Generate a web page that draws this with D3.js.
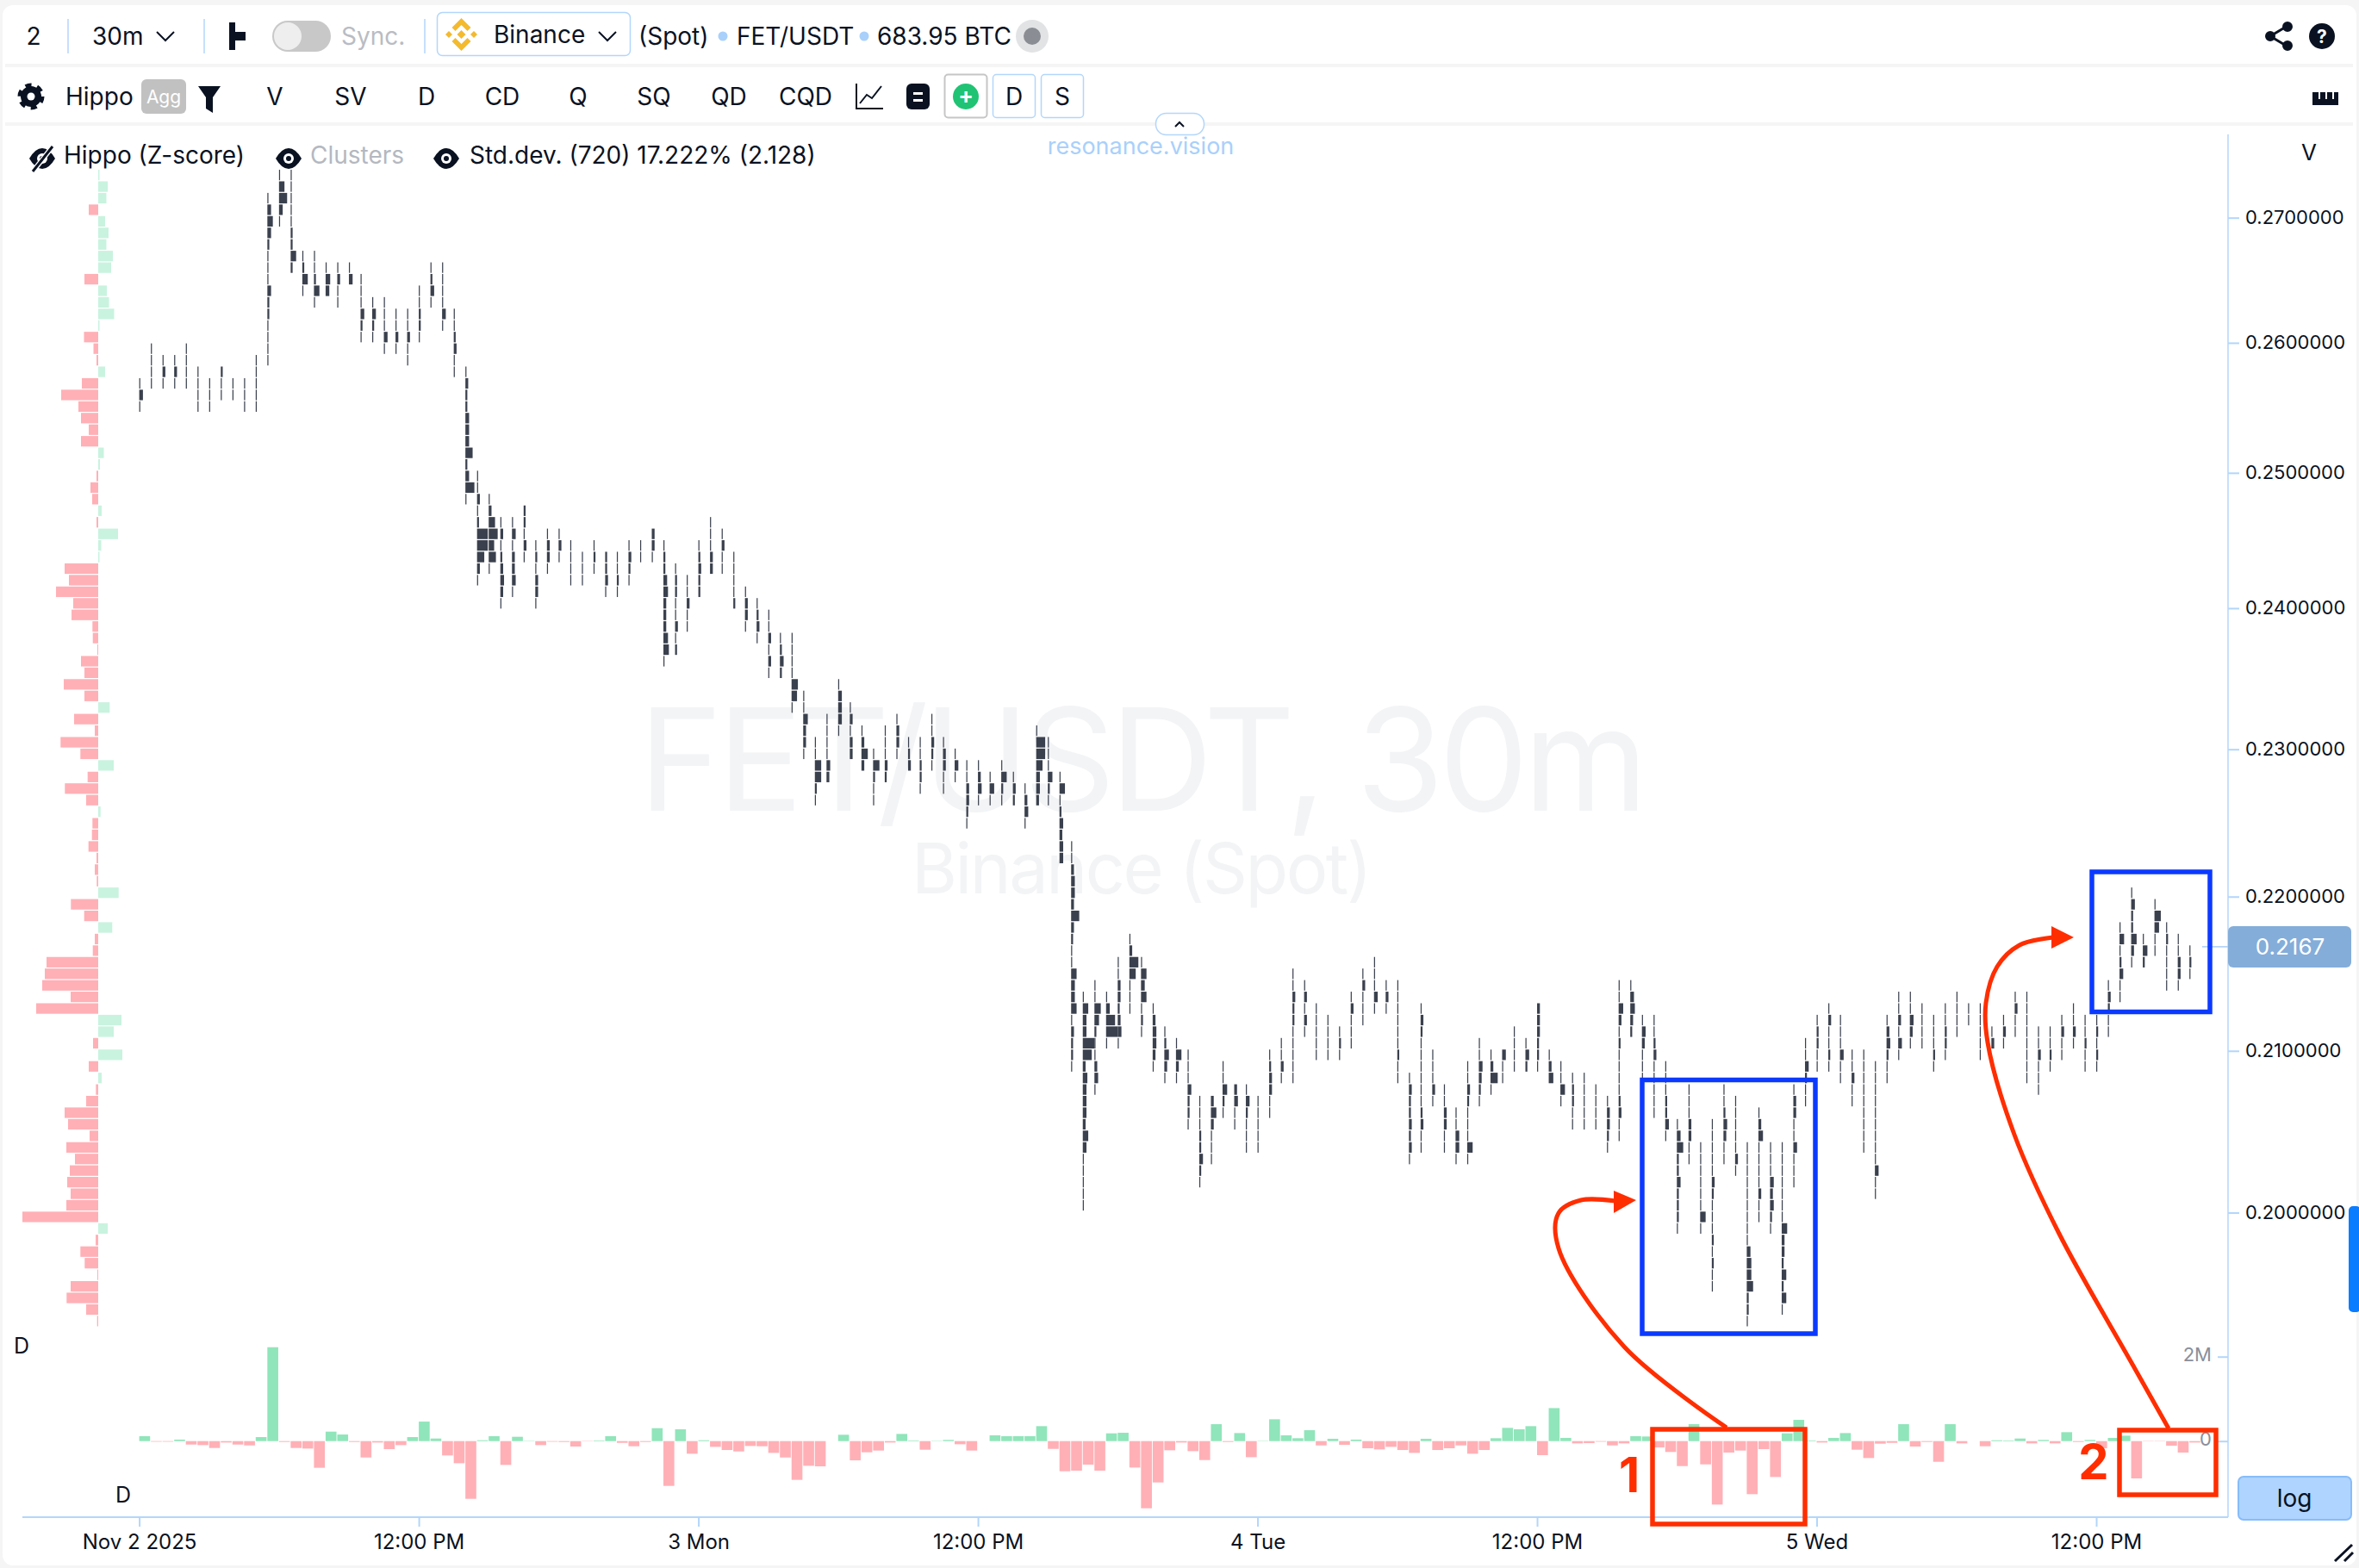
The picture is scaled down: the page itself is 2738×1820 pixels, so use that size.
<!DOCTYPE html>
<html>
<head>
<meta charset="utf-8">
<title>FET/USDT, 30m</title>
<script src="https://cdn.jsdelivr.net/npm/d3@7"></script>
<style>
  html, body { margin: 0; padding: 0; background: #f5f5f5; }
  svg { display: block; font-family: Inter, "Noto Sans", sans-serif; }
</style>
</head>
<body>
<div class="chart"></div>
<script>
// Axis labels
const priceTicks = [0.27, 0.26, 0.25, 0.24, 0.23, 0.22, 0.21, 0.20];
const timeTicks = [0, 24, 48, 72, 96, 120, 144, 168];
const timeLabels = ['Nov 2 2025', '12:00 PM', '3 Mon', '12:00 PM', '4 Tue', '12:00 PM', '5 Wed', '12:00 PM'];
const deltaTicks = [2000, 0];
const lastPrice = 0.2167;

// Delta per 30m candle, thousands
const deltaValues = [
  116, -14, -14, 34, -82, -95, -163, -34, -82, -102, 95, 2224, -20, -163, -177, -632, 224, 156, -20, -388,
  -34, -190, -95, 95, 462, 61, -340, -524, -1367, 20, 116, -564, 102, 7, -95, -14, -20, -129, -7, 14,
  116, -41, -122, -20, 306, -1061, 279, -299, 20, -136, -211, -245, -116, -122, -279, -388, -918, -585, -598, 0,
  150, -456, -265, -224, -34, 170, 14, -204, 7, 27, -75, -224, 0, 136, 116, 116, 116, 354, -184, -714,
  -700, -558, -700, 184, 197, -626, -1591, -979, -218, -34, -238, -449, 401, -20, 190, -381, 7, 517, 136, 68,
  258, -102, 54, -88, 34, -170, -197, -136, -211, -279, 54, -211, -170, -102, -299, -211, 68, 313, 279, 354,
  -333, 782, 75, -54, -48, -14, -102, -54, 116, 109, -150, -258, -592, 401, -551, -1503, -272, -224, -1258, -190,
  -850, 184, 503, 14, -34, 75, 190, -204, -401, -61, -41, 401, -129, -20, -490, 401, -54, 0, -122, 20,
  14, 61, -54, 27, -54, 211, -20, 27, -170, 75, 129, -884, -7, -7, -109, -272, -34
];

// Volume delta per price level, top level first
const profileDelta = [
  1.5, 11, 9.5, -11, 8, 12, 9.5, 17, 15, -16, 10, 12.5, 18.5, 1.5, -16.5, -5.5, -2, 8, -19, -43,
  -23, -20, -11, -20, 6.5, 2, -2, -9, -7, 4, -2, 23, 3.5, 1.5, -39, -34, -49, -29, -31, -6.7,
  -6.3, -1, -20, -16, -40, -16, 13.3, -28, -4, -43.7, -20.7, 18, -12.3, -38.7, -14, 2.7, -6.7, -7.3, -11.3, -2,
  -4, -1.7, 23.7, -31.7, -16.3, 16.3, -4, -6.3, -60, -62, -65, -32, -72, 27, 18, -6, 28, -11, 4, -2.7,
  -14, -39, -35, -10, -37, -27, -33, -36, -32, -37, -88, 11, -3, -20.7, -15.7, -1, -32, -36.7, -14, -1.3
];

// Highest price level of each candle
const candleTop = [
  18, 15, 16, 16, 15, 17, 18, 17, 18, 18, 16, 2, 0, 0, 7, 7, 8, 8, 8, 9,
  11, 11, 12, 12, 10, 8, 8, 12, 17, 26, 28, 30, 30, 29, 32, 31, 31, 32, 33, 32,
  33, 33, 32, 32, 31, 32, 34, 35, 32, 30, 31, 33, 36, 37, 38, 40, 40, 45, 49, 47,
  44, 46, 48, 50, 48, 47, 49, 49, 47, 49, 50, 51, 51, 52, 51, 52, 53, 48, 49, 52,
  58, 71, 70, 71, 68, 66, 68, 72, 74, 75, 76, 80, 80, 77, 79, 79, 80, 76, 75, 69,
  70, 72, 73, 74, 71, 69, 68, 70, 70, 78, 72, 76, 79, 81, 77, 75, 76, 76, 74, 75,
  72, 76, 77, 78, 78, 79, 80, 70, 70, 73, 73, 77, 82, 79, 84, 82, 79, 80, 84, 81,
  84, 84, 79, 75, 73, 72, 73, 76, 76, 77, 73, 71, 71, 72, 73, 72, 71, 72, 72, 74,
  73, 71, 71, 74, 74, 73, 72, 73, 73, 70, 65, 62, 66, 63, 65, 66, 67
];

// Traded volume at each level of each candle, going down from the top level
const candleCells = [
  [1,4,1], [1,1,1,1], [1,3,1], [1,3,1], [1,1,1,1], [1,1,1,1], [1,1,1], [2,1,1], [1,1], [1,1,1],
  [1,1,1,1,1], [1,4,6,4,2,1,1,1,4,2,2,1,1,1,1], [1,6,9,4,1], [1,1,1,1,1,2,2,6,2], [1,2,6,1],
  [1,1,2,6,1], [1,5,4], [1,3,1,1], [1,4], [1,1,1,4,2,1],
  [1,4,2,1], [1,1,1,4,1], [1,1,3,1], [1,1,3,1,1], [1,1,2,2,1], [1,2,4,1], [1,1,1,1,4,1], [1,1,2,3,1,1],
  [1,3,2,2,4,4,4,8,2,4,10,1], [1,1,3,1,2,12,12,8,3,1],
  [1,3,7,10,6,8,1], [1,3,1,2,3,4,3,1], [1,4,1,3,3,4,1], [2,2,1,3,1], [1,2,1,3,3,1], [1,3,3,1], [1,3,1],
  [1,1,1,1], [1,1,1], [1,2,1],
  [2,2,3,1], [1,1,2,1], [1,3,2,1], [1,1], [3,3,1], [1,2,2,4,5,3,3,3,5,6,1], [1,2,2,1,1,3,1,2], [1,1,3,1,1],
  [1,2,3,2,2], [1,1,1,3,3],
  [1,3,1,1], [1,1,1,1,2], [1,3,3,1], [1,2,3,1], [1,1,3,1,3,1], [1,2,4,2], [1,1,1,1,7,6,1], [1,1,5,3,3,1],
  [1,1,7,7,2,1], [1,1,1,1,4,3],
  [1,4,4,4,1], [1,3,1,3,3], [1,3,7,3], [1,7,2,1,1], [1,1,1,3,2], [1,3,3,1], [1,2,3], [1,1,2,2,1], [1,1,3,2,1],
  [1,3,3,1,1],
  [1,4,1], [1,1,3,3,2,1], [1,3,4,1], [1,5,1], [1,6,2,1], [1,3,2], [1,3,4,1], [1,10,10,7,4,4,3], [1,1,1,5,2,1],
  [1,6,1,2,4,3,4,4],
  [1,1,3,4,4,3,9,3,2,1,1,6,4,4,6,1,3,2,2,1], [1,6,4,4,13,10,3,5,4,4,4,3,6,4,1,1,1,1,1], [1,1,7,5,2,1,1,3,4,1],
  [1,4,10,13,1], [1,1,3,3,2,3,4,1], [1,3,10,7,1,1,1], [1,6,4,6,1,2,1], [1,3,4,4,3,1], [1,2,5,3,1], [1,6,3,1],
  [1,1,1,4,2,2,1], [1,1,1,2,2,4,2,1], [3,6,3,1,1,1], [1,1,5,2,1], [3,4,1,1], [1,4,2,1,1,1], [1,1,1,1,1],
  [1,2,3,3,1,1], [1,1,3,1], [1,1,3,2,2,1,1,1,1,1],
  [1,3,1,3,1], [1,1,1,1,1], [1,1,1,1], [1,2,1], [1,3,1,1,1], [1,3,1,1,1], [1,1,1,4,1], [1,3,1],
  [1,1,1,1,1,1,2,1,1], [1,3,2,2,3,2,3,1],
  [1,3,2,1,1,1,1,1,1,2,3,1,1], [1,1,1,3,1], [1,1,3,3,1,1], [1,1,4,4,1], [1,1,3,2,1,1,1,6,1], [1,1,4,3,2,1],
  [1,3,8,1], [4,1,1], [1,1,1,1], [1,4,2],
  [3,3,3,2,2,1], [1,3,5], [1,1,5,1], [1,2,2,1,1], [1,1,1,1,1], [1,1,1,1], [1,3,3,2,1],
  [1,1,5,3,1,2,1,1,1,1,2,3,1,1], [1,4,5,3,2], [1,4,3,1,1,1],
  [1,1,2,3,1,1,1,1,1], [1,1,1,2,2,4,1], [1,4,7,2,2,4,2,2,2,1], [1,1,1,3,3,1,1], [1,1,1,1,1,1,6,1],
  [1,1,1,1,1,3,2,1,1,1,2,1,2,1,1], [1,1,2,4,3,1,1], [1,1,1,1,1,3,1], [1,1,1,1,1,1,1,1,1,4,5,5,7,2,2,1],
  [1,3,5,1,1,1,1,3,1,1],
  [1,1,1,4,3,4,2,1], [1,1,1,1,1,1,1,6,3,3,2,5,2,5,1], [1,3,3,1,1,4,1,1,1], [1,1,4,2,1,1], [1,2,2,1,1],
  [1,3,1,1,2,1], [1,1,1,4,1,1], [1,1,3,1,1], [1,1,1,1,1,1,1,1,1], [1,1,1,1,1,1,1,1,1,4,1,1],
  [1,3,4,2,1,1], [1,1,3,1,4,1], [1,1,4,3,1], [1,1,1,1], [1,1,1,2,1], [1,1,2,2,1], [1,1,1,1], [1,1], [1,1,1,1,1],
  [1,3],
  [1,3,1], [1,3,1,1], [1,1,1,1,1,1,1,1], [1,1,3,1,1,1], [1,1,2,1], [1,3,1,1], [1,1,3,1], [1,1,2,1,1], [1,2,1,2,1],
  [1,3,2,1,1], [1,5,1,2,4,1,1], [1,4,2,2,6,3,1], [1,5,2], [1,7,5,1,1], [1,2,1,1,1,1], [1,1,3,3,1], [1,2,1]
];

// Set chart dimensions
const width = 2738, height = 1820;
const plotRight = 2586, axisY = 1761;

const ink = '#0a1222', inkCandle = '#3a404d', axisBlue = '#b3d6fb';
const upColor = '#90e5ba', downColor = '#ffb0b6', profileUp = '#c9f3df';
const annotRed = '#ff2e00', annotBlue = '#0b39ff';

const svg = d3.select('.chart').append('svg')
  .attr('width', width)
  .attr('height', height);

// Scales
const x = d3.scaleLinear().domain([0, 168]).range([161.6, 2433]);
const priceY = d3.scaleLog().domain([0.2, 0.27]).range([1407.5, 252.7]);
const deltaY = d3.scaleLinear().domain([0, 2000]).range([1672.7, 1574.7]);
const profileX = d3.scaleLinear().domain([-88, 28]).range([26, 142]);
const volumeW = d3.scaleLinear().domain([0, 13]).range([0.2, 13.5]);

// Price ladder: levels are equal steps on the log axis
const ladderTop = 0.2735, ladderRatio = 1.003498, cellHeight = 12.2;
const levelPrice = r => ladderTop / Math.pow(ladderRatio, r);
const barStep = x(1) - x(0);

function label(parent, px, py, text, opts = {}) {
  return parent.append('text')
    .attr('x', px).attr('y', py)
    .attr('dy', '0.36em')
    .attr('text-anchor', opts.anchor || 'start')
    .attr('fill', opts.color || ink)
    .attr('font-size', opts.size || 28)
    .attr('font-weight', opts.weight || 400)
    .text(text);
}

// Page card
svg.append('rect').attr('width', width).attr('height', height).attr('fill', '#f5f5f5');
svg.append('rect').attr('x', 3).attr('y', 6).attr('width', 2732).attr('height', 1811).attr('rx', 12).attr('fill', '#fff');
svg.append('rect').attr('x', 6).attr('y', 74).attr('width', 2725).attr('height', 4).attr('fill', '#f5f5f5');
svg.append('rect').attr('x', 6).attr('y', 142).attr('width', 2725).attr('height', 4).attr('fill', '#f5f5f5');

// Watermark
const watermark = svg.append('g').attr('fill', '#f3f4f6').attr('text-anchor', 'middle');
watermark.append('text').attr('x', 1324).attr('y', 941).attr('font-size', 165).attr('letter-spacing', -5.9).text('FET/USDT, 30m');
watermark.append('text').attr('x', 1324).attr('y', 1037).attr('font-size', 81).attr('letter-spacing', -2.4).text('Binance (Spot)');

// Top toolbar
function addToolbar() {
  const bar = svg.append('g').attr('class', 'toolbar');
  label(bar, 39, 42, '2', { anchor: 'middle' });
  [79, 237, 493].forEach(sx => bar.append('line').attr('x1', sx).attr('x2', sx).attr('y1', 22).attr('y2', 62)
    .attr('stroke', axisBlue).attr('stroke-width', 1.5));
  label(bar, 107, 42, '30m');
  chevron(bar, 192, 42);

  // layout icon
  bar.append('rect').attr('x', 266).attr('y', 26).attr('width', 7).attr('height', 11).attr('fill', ink);
  bar.append('rect').attr('x', 266).attr('y', 37).attr('width', 19).attr('height', 10).attr('fill', ink);
  bar.append('rect').attr('x', 266).attr('y', 47).attr('width', 7).attr('height', 11).attr('fill', ink);

  // Sync toggle
  bar.append('rect').attr('x', 316).attr('y', 24).attr('width', 68).attr('height', 36).attr('rx', 18).attr('fill', '#c8c8c8');
  bar.append('circle').attr('cx', 334).attr('cy', 42).attr('r', 16).attr('fill', '#eeeeee');
  label(bar, 396, 42, 'Sync.', { color: '#b9bcc3' });

  // Exchange selector
  bar.append('rect').attr('x', 507.5).attr('y', 14.5).attr('width', 224).attr('height', 50).attr('rx', 6)
    .attr('fill', '#fff').attr('stroke', axisBlue).attr('stroke-width', 1.5);
  const logo = bar.append('g').attr('fill', '#f3ba2f').attr('transform', 'translate(535.5,40)');
  logo.append('path').attr('d', 'M0,-19 L11,-8 L7,-4 L0,-11 L-7,-4 L-11,-8 Z');
  logo.append('path').attr('d', 'M0,19 L11,8 L7,4 L0,11 L-7,4 L-11,8 Z');
  [[-14.5, 4], [14.5, 4], [0, 5]].forEach(p => {
    logo.append('path').attr('d', `M${p[0]},${-p[1]} L${p[0] + p[1]},0 L${p[0]},${p[1]} L${p[0] - p[1]},0 Z`);
  });
  label(bar, 573, 40, 'Binance');
  chevron(bar, 705, 42);
  label(bar, 741, 42, '(Spot)');
  bar.append('circle').attr('cx', 839).attr('cy', 42).attr('r', 5.5).attr('fill', '#a9d0fb');
  label(bar, 855, 42, 'FET/USDT');
  bar.append('circle').attr('cx', 1003).attr('cy', 42).attr('r', 5.5).attr('fill', '#a9d0fb');
  label(bar, 1018, 42, '683.95 BTC');
  bar.append('circle').attr('cx', 1198).attr('cy', 42).attr('r', 19).attr('fill', '#e2e3e5');
  bar.append('circle').attr('cx', 1198).attr('cy', 42).attr('r', 10).attr('fill', '#8a8d93');

  // Share and help
  const share = bar.append('g').attr('fill', ink).attr('stroke', ink).attr('stroke-width', 3);
  share.append('path').attr('d', 'M2655,30 L2635,42 L2655,54').attr('fill', 'none');
  [[2655, 31], [2635, 42], [2655, 53]].forEach(p => share.append('circle').attr('cx', p[0]).attr('cy', p[1]).attr('r', 4.5));
  bar.append('circle').attr('cx', 2695).attr('cy', 42).attr('r', 15).attr('fill', ink);
  label(bar, 2695, 42, '?', { anchor: 'middle', color: '#fff', size: 21, weight: 700 });

  // Indicator row
  const gear = bar.append('g').attr('transform', 'translate(36,112)');
  gear.append('circle').attr('r', 12).attr('fill', ink);
  gear.append('circle').attr('r', 13).attr('fill', 'none').attr('stroke', ink).attr('stroke-width', 5)
    .attr('stroke-dasharray', '7 6.6');
  gear.append('circle').attr('r', 4.5).attr('fill', '#fff');
  label(bar, 76, 112, 'Hippo');
  bar.append('rect').attr('x', 164).attr('y', 92).attr('width', 52).attr('height', 40).attr('rx', 6).attr('fill', '#c1c1c1');
  label(bar, 190, 112, 'Agg', { anchor: 'middle', color: '#fff', size: 21 });
  bar.append('path').attr('d', 'M230,100 L256,100 L247,113 L247,131 L239,126 L239,113 Z').attr('fill', ink);

  const toolNames = ['V', 'SV', 'D', 'CD', 'Q', 'SQ', 'QD', 'CQD'];
  const toolCenters = [319, 407, 495, 583, 671, 759, 846, 935];
  toolNames.forEach((t, i) => label(bar, toolCenters[i], 112, t, { anchor: 'middle' }));

  // line chart icon
  bar.append('path').attr('d', 'M994,97 L994,126 L1025,126').attr('fill', 'none').attr('stroke', ink).attr('stroke-width', 2);
  bar.append('path').attr('d', 'M998,120 L1006,110 L1012,114 L1023,100').attr('fill', 'none').attr('stroke', ink).attr('stroke-width', 2);

  // notes icon
  bar.append('rect').attr('x', 1052).attr('y', 97).attr('width', 27).attr('height', 30).attr('rx', 6).attr('fill', ink);
  bar.append('rect').attr('x', 1060).attr('y', 107).attr('width', 11).attr('height', 3).attr('fill', '#fff');
  bar.append('rect').attr('x', 1060).attr('y', 115).attr('width', 11).attr('height', 3).attr('fill', '#fff');

  bar.append('rect').attr('x', 1096.5).attr('y', 86.5).attr('width', 49).attr('height', 50).attr('rx', 4)
    .attr('fill', '#fff').attr('stroke', '#c6c6c6').attr('stroke-width', 2);
  bar.append('circle').attr('cx', 1121).attr('cy', 112).attr('r', 15).attr('fill', '#20c374');
  label(bar, 1121, 111, '+', { anchor: 'middle', color: '#fff', size: 26, weight: 700 });
  [[1152.5, 'D'], [1208.5, 'S']].forEach(b => {
    bar.append('rect').attr('x', b[0]).attr('y', 86.5).attr('width', 49).attr('height', 50).attr('rx', 4)
      .attr('fill', '#fff').attr('stroke', axisBlue).attr('stroke-width', 1.5);
    label(bar, b[0] + 24.5, 112, b[1], { anchor: 'middle' });
  });

  // ruler
  bar.append('path').attr('d', 'M2684,107 L2714,107 L2714,122 L2684,122 Z').attr('fill', ink);
  [2691, 2699, 2707].forEach(rx => bar.append('rect').attr('x', rx).attr('y', 107).attr('width', 2).attr('height', 8).attr('fill', '#fff'));

  // collapse button and site name
  bar.append('rect').attr('x', 1341.5).attr('y', 131.5).attr('width', 56).attr('height', 25).attr('rx', 12)
    .attr('fill', '#fff').attr('stroke', axisBlue).attr('stroke-width', 1.5);
  bar.append('path').attr('d', 'M1364,147 L1369,142 L1374,147').attr('fill', 'none').attr('stroke', ink).attr('stroke-width', 2);
  label(bar, 1324, 169, 'resonance.vision', { anchor: 'middle', color: '#a9d0fb', size: 27 });

  // Overlay legend
  eye(bar, 49, 184, true);
  label(bar, 74, 180, 'Hippo (Z-score)');
  eye(bar, 335, 184, false);
  label(bar, 360, 180, 'Clusters', { color: '#b4b8c0' });
  eye(bar, 518, 184, false);
  label(bar, 545, 180, 'Std.dev. (720) 17.222% (2.128)');
  label(bar, 2680, 177, 'V', { anchor: 'middle', size: 26 });
}

function chevron(parent, cx, cy) {
  parent.append('path').attr('d', `M${cx - 10},${cy - 5} L${cx},${cy + 5} L${cx + 10},${cy - 5}`)
    .attr('fill', 'none').attr('stroke', ink).attr('stroke-width', 2);
}

function eye(parent, cx, cy, crossed) {
  const g = parent.append('g').attr('transform', `translate(${cx},${cy})`);
  g.append('path').attr('d', 'M-15,0 Q-8,-12 0,-12 Q8,-12 15,0 Q8,12 0,12 Q-8,12 -15,0 Z').attr('fill', ink);
  g.append('circle').attr('r', 6).attr('fill', '#fff');
  g.append('circle').attr('r', 3).attr('fill', ink);
  if (crossed) {
    g.append('line').attr('x1', -10).attr('y1', 14).attr('x2', 12).attr('y2', -14).attr('stroke', '#fff').attr('stroke-width', 6);
    g.append('line').attr('x1', -11).attr('y1', 15).attr('x2', 12).attr('y2', -14).attr('stroke', ink).attr('stroke-width', 3);
  }
}

// Volume profile on the left
svg.append('g').attr('class', 'profile')
  .selectAll('rect')
  .data(profileDelta)
  .join('rect')
  .attr('x', d => Math.min(profileX(d), profileX(0)))
  .attr('y', (d, i) => priceY(levelPrice(i)) - cellHeight / 2)
  .attr('width', d => Math.abs(profileX(d) - profileX(0)))
  .attr('height', cellHeight)
  .attr('fill', d => d < 0 ? downColor : profileUp);

// Cluster candles
const cellData = candleCells.flatMap((cells, t) => cells.map((v, k) => ({ t, row: candleTop[t] + k, v })));
svg.append('g').attr('class', 'candles')
  .selectAll('rect')
  .data(cellData)
  .join('rect')
  .attr('x', d => x(d.t))
  .attr('y', d => priceY(levelPrice(d.row)) - cellHeight / 2)
  .attr('width', d => volumeW(d.v))
  .attr('height', cellHeight)
  .attr('fill', inkCandle);

// Delta bars
svg.append('g').attr('class', 'delta')
  .selectAll('rect')
  .data(deltaValues)
  .join('rect')
  .attr('x', (d, i) => x(i))
  .attr('y', d => Math.min(deltaY(d), deltaY(0)))
  .attr('width', barStep - 0.9)
  .attr('height', d => Math.abs(deltaY(d) - deltaY(0)))
  .attr('fill', d => d < 0 ? downColor : upColor);

// Axes
function styleAxis(g, color, size) {
  g.select('.domain').remove();
  g.selectAll('.tick line').attr('stroke', axisBlue).attr('stroke-width', 2);
  g.selectAll('.tick text').attr('fill', color).attr('font-size', size).attr('font-family', 'Inter, sans-serif');
}

svg.append('line').attr('x1', plotRight).attr('x2', plotRight).attr('y1', 156).attr('y2', axisY)
  .attr('stroke', axisBlue).attr('stroke-width', 1.5);
svg.append('line').attr('x1', 26).attr('x2', plotRight).attr('y1', axisY).attr('y2', axisY)
  .attr('stroke', axisBlue).attr('stroke-width', 2);

svg.append('g').attr('transform', `translate(${plotRight},0)`)
  .call(d3.axisRight(priceY).tickValues(priceTicks).tickFormat(d3.format('.7f')).tickSize(13).tickPadding(7))
  .call(g => styleAxis(g, ink, 22));

svg.append('g').attr('transform', `translate(0,${axisY})`)
  .call(d3.axisBottom(x).tickValues(timeTicks).tickFormat((d, i) => timeLabels[i]).tickSize(11).tickPadding(9))
  .call(g => styleAxis(g, ink, 24));

svg.append('g').attr('transform', `translate(${plotRight},0)`)
  .call(d3.axisLeft(deltaY).tickValues(deltaTicks).tickFormat(d3.format('.0s')).tickSize(12).tickPadding(7))
  .call(g => styleAxis(g, '#8a8f9a', 22))
  .call(g => g.selectAll('.tick text').attr('dy', '0.24em').text(d => d === 0 ? '0' : '2M'));

// Current price marker
const lastY = priceY(lastPrice);
svg.append('line').attr('x1', 2556).attr('x2', plotRight).attr('y1', lastY).attr('y2', lastY)
  .attr('stroke', '#a9cdf5').attr('stroke-width', 1.5);
svg.append('rect').attr('x', plotRight).attr('y', lastY - 24).attr('width', 143).attr('height', 48).attr('rx', 6).attr('fill', '#84add9');
label(svg, 2658, lastY, lastPrice.toFixed(4), { anchor: 'middle', color: '#fff', size: 26 });

// Pane labels and corner controls
label(svg, 25, 1562, 'D', { anchor: 'middle', size: 25 });
label(svg, 143, 1735, 'D', { anchor: 'middle', size: 25 });
svg.append('rect').attr('x', 2598).attr('y', 1714).attr('width', 131).attr('height', 50).attr('rx', 6)
  .attr('fill', '#afd4ff').attr('stroke', '#86bcfb').attr('stroke-width', 2);
label(svg, 2663, 1739, 'log', { anchor: 'middle', size: 28 });
svg.append('rect').attr('x', 2726).attr('y', 1400).attr('width', 14).attr('height', 123).attr('rx', 5).attr('fill', '#0a7cff');
svg.append('path').attr('d', 'M2710,1812 L2730,1793 M2721,1812 L2731,1802').attr('stroke', ink).attr('stroke-width', 3).attr('fill', 'none');

addToolbar();

// Hand-drawn marks on top of the chart
const annot = svg.append('g').attr('class', 'annotations').attr('fill', 'none');
function box(x0, y0, x1, y1, color) {
  annot.append('rect').attr('x', x0).attr('y', y0).attr('width', x1 - x0).attr('height', y1 - y0)
    .attr('stroke', color).attr('stroke-width', 5.5);
}
box(1906, 1253.5, 2107, 1548, annotBlue);
box(2428, 1012, 2565, 1174.5, annotBlue);
box(1918, 1659, 2095, 1769, annotRed);
box(2460, 1660, 2572, 1735, annotRed);

const sketch = d3.line().curve(d3.curveCatmullRom.alpha(0.5));
const arrowOne = [[2004, 1657], [1885, 1563], [1809, 1449], [1809, 1408], [1835, 1393], [1875, 1394]];
const arrowTwo = [[2517, 1658], [2473, 1580], [2390, 1432], [2338, 1317], [2307, 1210], [2305, 1164], [2318, 1122], [2344, 1097], [2383, 1088]];
annot.append('path').attr('d', sketch(arrowOne)).attr('stroke', annotRed).attr('stroke-width', 5);
annot.append('path').attr('d', sketch(arrowTwo)).attr('stroke', annotRed).attr('stroke-width', 5);
annot.append('path').attr('d', 'M1873,1382 L1899,1393 L1873,1408 Z').attr('fill', annotRed);
annot.append('path').attr('d', 'M2381,1075 L2407,1088 L2381,1101 Z').attr('fill', annotRed);
label(svg, 1891, 1712, '1', { anchor: 'middle', color: annotRed, size: 56, weight: 700 });
label(svg, 2430, 1697, '2', { anchor: 'middle', color: annotRed, size: 56, weight: 700 });
</script>
</body>
</html>
